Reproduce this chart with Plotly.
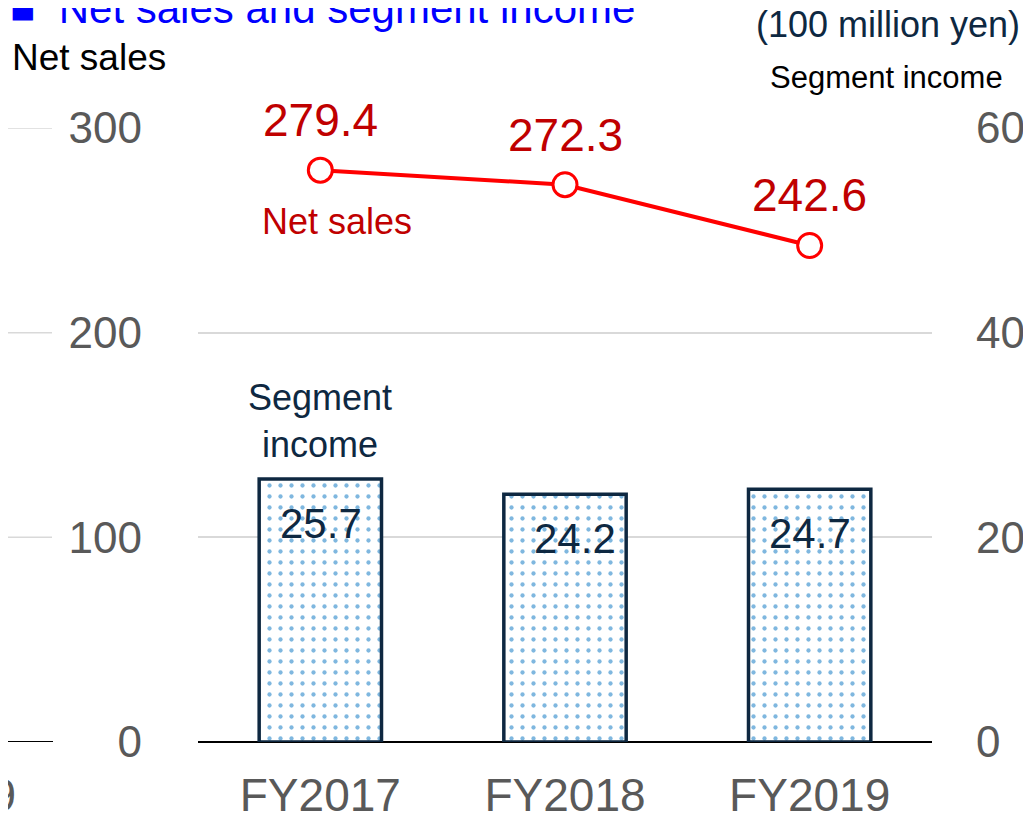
import plotly.graph_objects as go

# ── Data ──────────────────────────────────────────────────────────────────────
years = ["FY2017", "FY2018", "FY2019"]
net_sales = [279.4, 272.3, 242.6]           # left axis, 100 million yen
segment_income = [25.7, 24.2, 24.7]         # right axis, 100 million yen
left_ticks = [0, 100, 200, 300]
right_ticks = [0, 20, 40, 60]

# ── Style ─────────────────────────────────────────────────────────────────────
FONT = "Liberation Sans, Arial, sans-serif"
RED = "#FF0000"
DARK_RED = "#C00000"
NAVY = "#0E2841"
GRAY = "#595959"
GRID = "#D9D9D9"

# page body adds an 8px offset, so the figure is drawn 8px smaller
OFF = 8
W, H = 1031 - OFF, 818 - OFF
L, T = 198 - OFF, 128 - OFF
R = W - (932 - OFF)
B = H - (742 - OFF)
PW, PH = W - L - R, H - T - B


def px_x(x):
    # window pixel -> paper fraction
    return (x - OFF - L) / PW


def px_y(y):
    return (H - B - (y - OFF)) / PH


fig = go.Figure()

fig.add_trace(go.Bar(
    x=years, y=segment_income, yaxis="y2", width=0.5,
    marker=dict(
        color="white",
        line=dict(color=NAVY, width=3.5),
        pattern=dict(shape=".", fgcolor="#0070C0", bgcolor="white", size=11, solidity=0.12),
    ),
    showlegend=False, hoverinfo="skip",
))

fig.add_trace(go.Scatter(
    x=years, y=net_sales, mode="lines+markers",
    line=dict(color=RED, width=4),
    marker=dict(symbol="circle", size=24, color="white", line=dict(color=RED, width=3)),
    cliponaxis=False, showlegend=False, hoverinfo="skip",
))

ann = []
# line value labels
for yr, v in zip(years, net_sales):
    ann.append(dict(x=yr, y=v, xref="x", yref="y", text=f"{v:.1f}", showarrow=False,
                    yanchor="middle", yshift=50,
                    font=dict(size=46, color=DARK_RED, family=FONT)))
# bar value labels
bar_xshift = [1, 10, 0]
for yr, v, dx in zip(years, segment_income, bar_xshift):
    ann.append(dict(x=yr, y=v, xref="x", yref="y2", text=f"{v:.1f}", showarrow=False,
                    yanchor="middle", yshift=-44, xshift=dx,
                    font=dict(size=42, color=NAVY, family=FONT)))

ann += [
    dict(x=years[0], y=px_y(421), xref="x", yref="paper", text="Segment<br>income",
         yanchor="middle", showarrow=False, font=dict(size=36, color=NAVY, family=FONT)),
    dict(x=years[0], y=px_y(222), xref="x", yref="paper", text="Net sales",
         yanchor="middle", showarrow=False, xshift=17,
         font=dict(size=36, color=DARK_RED, family=FONT)),
    dict(x=px_x(10), y=px_y(58), xref="paper", yref="paper", text="Net sales",
         xanchor="left", yanchor="middle", showarrow=False,
         font=dict(size=37, color="black", family=FONT)),
    dict(x=px_x(1022), y=px_y(25), xref="paper", yref="paper", text="(100 million yen)",
         xanchor="right", yanchor="middle", showarrow=False,
         font=dict(size=36, color=NAVY, family=FONT)),
    dict(x=px_x(1005), y=px_y(78), xref="paper", yref="paper", text="Segment income",
         xanchor="right", yanchor="middle", showarrow=False,
         font=dict(size=31, color="black", family=FONT)),
    dict(x=px_x(8), y=px_y(9), xref="paper", yref="paper",
         text="■  Net sales and segment income",
         xanchor="left", yanchor="middle", showarrow=False,
         font=dict(size=42, color="#0000FF", family=FONT)),
    # remnant of neighbouring chart on the left edge
    dict(x=px_x(18), y=px_y(795), xref="paper", yref="paper", text="FY2019",
         xanchor="right", yanchor="middle", showarrow=False,
         font=dict(size=46, color=GRAY, family=FONT)),
]

shapes = []
for t in left_ticks[1:]:
    shapes.append(dict(type="line", xref="paper", yref="y", x0=px_x(0), x1=px_x(52),
                       y0=t, y1=t, line=dict(color=GRID, width=1.5)))
shapes.append(dict(type="line", xref="paper", yref="y", x0=px_x(0), x1=px_x(53),
                   y0=0, y1=0, line=dict(color="black", width=2)))

fig.update_layout(
    width=W, height=H,
    margin=dict(l=L, r=R, t=T, b=B, autoexpand=False),
    paper_bgcolor="white", plot_bgcolor="white",
    font=dict(family=FONT, color=GRAY),
    xaxis=dict(
        type="category", range=[-0.5, 2.5], showgrid=False, ticks="",
        tickfont=dict(size=46, color=GRAY), ticklabelstandoff=22,
        showline=False, zeroline=False, automargin=False,
    ),
    yaxis=dict(
        range=[0, 300], tickvals=left_ticks, showgrid=True, gridcolor=GRID, gridwidth=1.5,
        zeroline=True, zerolinecolor="black", zerolinewidth=2,
        tickfont=dict(size=44, color=GRAY), ticklabelstandoff=55, showline=False,
        automargin=False,
    ),
    yaxis2=dict(
        range=[0, 60], tickvals=right_ticks, overlaying="y", side="right",
        showgrid=False, zeroline=False, showline=False,
        tickfont=dict(size=44, color=GRAY), ticklabelstandoff=43, automargin=False,
    ),
    annotations=ann,
    shapes=shapes,
    bargap=0.5,
)

fig.write_html("out.html")
